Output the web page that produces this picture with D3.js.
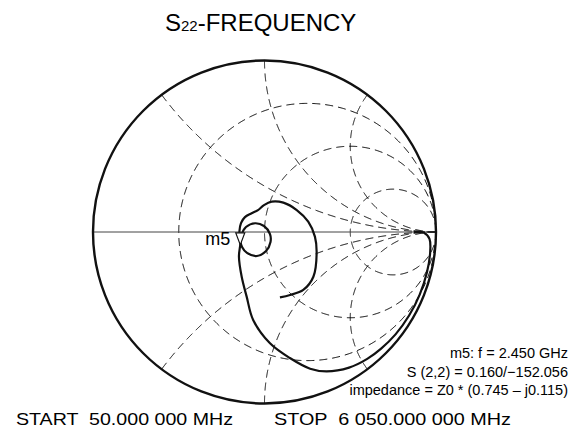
<!DOCTYPE html>
<html>
<head>
<meta charset="utf-8">
<script src="https://cdn.jsdelivr.net/npm/d3@7"></script>
<style>
  body { margin: 0; background: #fff; }
  svg { font-family: "Liberation Sans", Arial, Helvetica, sans-serif; }
</style>
</head>
<body>
<svg id="chart" width="579" height="434"></svg>
<script>
// grid values (normalised resistance circles / reactance arcs)
const rCircles = [1 / 3, 1, 3];
const xArcs = [0.5, 1, 2, -0.5, -1, -2];

const traceRe = [0.870, 0.930, 0.962, 0.966, 0.947, 0.905, 0.843, 0.764, 0.680, 0.599, 0.493, 0.362,
    0.266, 0.148, 0.032, -0.066, -0.104, -0.133, -0.149, -0.1413,
    -0.134, -0.108, -0.055, -0.003, 0.032, 0.035, 0.009, -0.044, -0.102, -0.131, -0.143, -0.146,
    -0.137, -0.114, -0.075, -0.038, -0.003, 0.042, 0.110, 0.188, 0.255, 0.294, 0.304, 0.285,
    0.226, 0.149, 0.090];
const traceIm = [0.000, -0.004, -0.040, -0.118, -0.236, -0.365, -0.487, -0.597, -0.680, -0.740, -0.791, -0.813,
    -0.797, -0.735, -0.649, -0.513, -0.377, -0.261, -0.144, -0.0750,
    -0.017, 0.029, 0.051, 0.035, -0.012, -0.058, -0.111, -0.140, -0.122, -0.087, -0.041, 0.006,
    0.052, 0.087, 0.109, 0.128, 0.157, 0.177, 0.171, 0.128, 0.060, -0.027, -0.124, -0.261,
    -0.338, -0.367, -0.381];

// marker m5
const markerName = 'm5';
const markerRe = -0.1413;
const markerIm = -0.0750;
const markerLines = ['m5: f = 2.450 GHz', 'S (2,2) = 0.160/\u2212152.056', 'impedance = Z0 * (0.745 \u2013 j0.115)'];

const startLabel = 'START  50.000 000 MHz';
const stopLabel = 'STOP  6 050.000 000 MHz';

const cx = 264.5, cy = 232, R = 171.5;

const svg = d3.select('#chart');

const x = d3.scaleLinear().domain([-1, 1]).range([cx - R, cx + R]);
const y = d3.scaleLinear().domain([-1, 1]).range([cy + R, cy - R]);

// z -> gamma
const gamma = (r, xx) => {
    let nr = r - 1, ni = xx, dr = r + 1, di = xx;
    let den = dr * dr + di * di;
    return [(nr * dr + ni * di) / den, (ni * dr - nr * di) / den];
}

const line = d3.line().x(d => x(d[0])).y(d => y(d[1]));

// resistance circles
rCircles.forEach((r) => {
    let pts = d3.range(-1, 1.0001, 0.002).map((t) => {
        let xx = Math.tan(t * Math.PI / 2 * 0.9999);
        return gamma(r, xx);
    });
    svg.append('path')
        .attr('d', line(pts))
        .attr('fill', 'none')
        .attr('stroke', '#000')
        .attr('stroke-width', 1)
        .attr('stroke-dasharray', '8,5');
})

// reactance arcs
xArcs.forEach((xx) => {
    let pts = d3.range(0, 1, 0.002).map((t) => gamma(t / (1 - t), xx));
    svg.append('path')
        .attr('d', line(pts))
        .attr('fill', 'none')
        .attr('stroke', '#000')
        .attr('stroke-width', 1)
        .attr('stroke-dasharray', '8,5');
})

// real axis
svg.append('line')
    .attr('x1', x(-1)).attr('x2', x(1))
    .attr('y1', y(0)).attr('y2', y(0))
    .attr('stroke', '#444')
    .attr('stroke-width', 1);

// outer circle
svg.append('circle')
    .attr('cx', x(0)).attr('cy', y(0))
    .attr('r', x(1) - x(0))
    .attr('fill', 'none')
    .attr('stroke', '#111')
    .attr('stroke-width', 2.4);

// trace
let tracePts = traceRe.map((d, i) => [d, traceIm[i]]);
svg.append('path')
    .attr('d', d3.line().x(d => x(d[0])).y(d => y(d[1])).curve(d3.curveCatmullRom.alpha(0.5))(tracePts))
    .attr('fill', 'none')
    .attr('stroke', '#111')
    .attr('stroke-width', 2.2)
    .attr('stroke-linejoin', 'round');

// marker triangle + label
let mx = x(markerRe), my = y(markerIm);
svg.append('path')
    .attr('d', `M${mx},${my} L${mx - 4.5},${my - 12} L${mx + 4.5},${my - 12} Z`)
    .attr('fill', '#fff')
    .attr('stroke', '#111')
    .attr('stroke-width', 1.2);
svg.append('text')
    .attr('x', mx - 10)
    .attr('y', my + 0.5)
    .attr('text-anchor', 'end')
    .attr('font-size', 18)
    .text(markerName);

// title
let title = svg.append('text')
    .attr('x', 165)
    .attr('y', 31)
    .attr('font-size', 24);
title.append('tspan').text('S');
title.append('tspan').attr('font-size', 15).text('22');
title.append('tspan').text('-FREQUENCY');

// marker readout
svg.selectAll('.readout')
    .data(markerLines)
    .enter()
    .append('text')
    .attr('class', 'readout')
    .attr('x', 568)
    .attr('y', (d, i) => 358 + i * 18.5)
    .attr('text-anchor', 'end')
    .attr('font-size', 14.5)
    .text(d => d);

// start / stop
svg.append('text')
    .attr('x', 16).attr('y', 425)
    .attr('font-size', 16.5)
    .attr('textLength', 217)
    .attr('lengthAdjust', 'spacingAndGlyphs')
    .style('white-space', 'pre')
    .text(startLabel);
svg.append('text')
    .attr('x', 274).attr('y', 425)
    .attr('font-size', 16.5)
    .attr('textLength', 237)
    .attr('lengthAdjust', 'spacingAndGlyphs')
    .style('white-space', 'pre')
    .text(stopLabel);
</script>
</body>
</html>
